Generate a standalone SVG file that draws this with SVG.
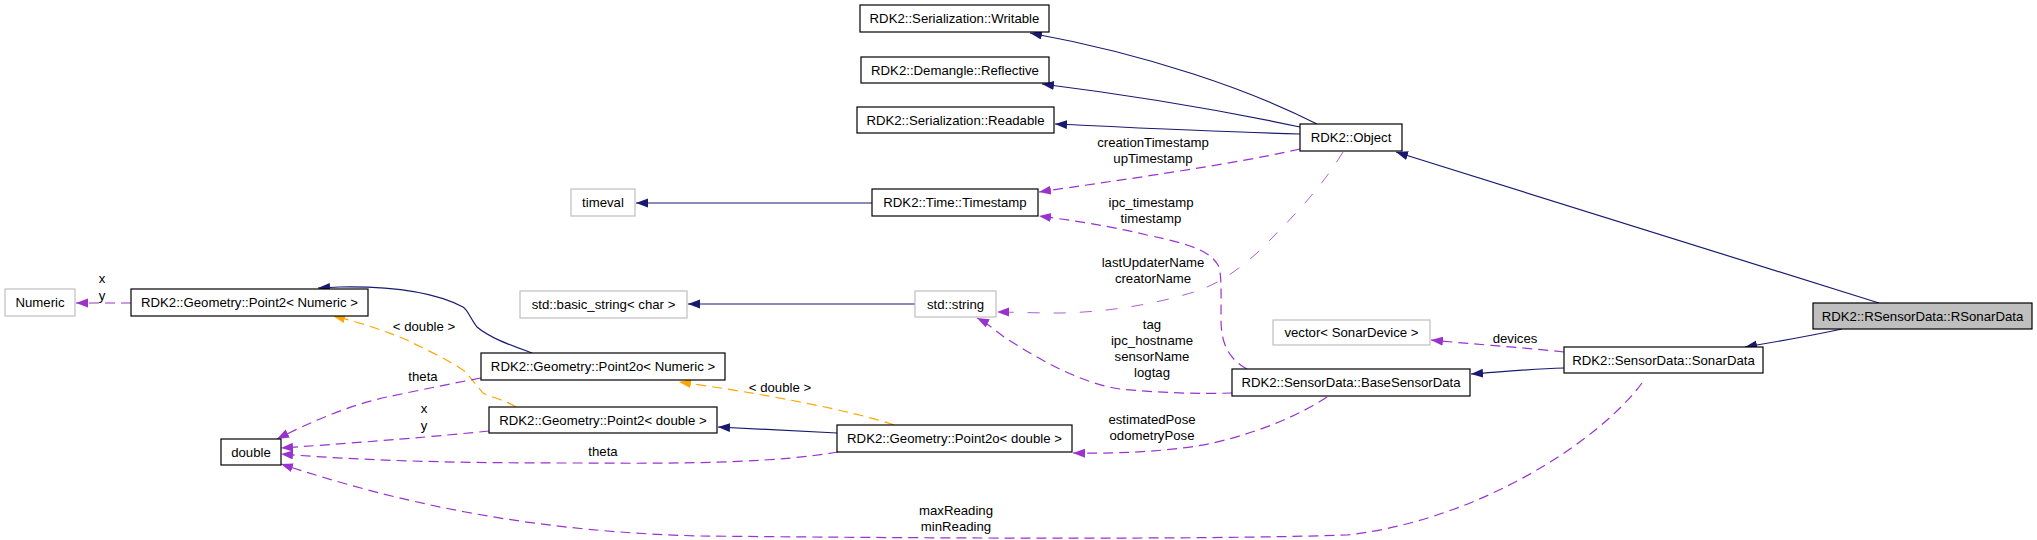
<svg xmlns="http://www.w3.org/2000/svg" width="2037" height="540" viewBox="0 0 2037 540">
<style>
  .n rect { fill: #ffffff; stroke: #000000; stroke-width: 1.2; }
  .n.ext rect { stroke: #bfbfbf; }
  .n.cur rect { fill: #bfbfbf; }
  text { font-family: "Liberation Sans", Arial, sans-serif; font-size: 13.2px; fill: #000000; text-anchor: middle; }
  .inh { fill: none; stroke: #191970; stroke-width: 1.2; }
  .use { fill: none; stroke: #9a32cd; stroke-width: 1.2; stroke-dasharray: 10,6; }
  .use.thin { stroke-width: 0.8; stroke-dasharray: 12,14; }
  .tpl { fill: none; stroke: #ffa500; stroke-width: 1.2; stroke-dasharray: 10,6; }
</style>
<defs>
  <marker id="aInh" markerUnits="userSpaceOnUse" markerWidth="13" markerHeight="10" refX="12" refY="4.5" orient="auto">
    <path d="M0,0 L12,4.5 L0,9 Z" fill="#191970"/>
  </marker>
  <marker id="aUse" markerUnits="userSpaceOnUse" markerWidth="13" markerHeight="10" refX="12" refY="4.5" orient="auto">
    <path d="M0,0 L12,4.5 L0,9 Z" fill="#9a32cd"/>
  </marker>
  <marker id="aTpl" markerUnits="userSpaceOnUse" markerWidth="13" markerHeight="10" refX="12" refY="4.5" orient="auto">
    <path d="M0,0 L12,4.5 L0,9 Z" fill="#ffa500"/>
  </marker>
</defs>
<rect x="0" y="0" width="2037" height="540" fill="#ffffff"/>

<g id="connectors">
  <!-- inheritance -->
  <path class="inh" marker-end="url(#aInh)" d="M1317,124 C1250,90 1150,55 1030,33"/>
  <path class="inh" marker-end="url(#aInh)" d="M1300,127 C1220,110 1130,95 1042,84"/>
  <path class="inh" marker-end="url(#aInh)" d="M1300,134 C1220,132 1140,128 1055,124"/>
  <path class="inh" marker-end="url(#aInh)" d="M1879,303 L1396,152"/>
  <path class="inh" marker-end="url(#aInh)" d="M1842,329 C1810,336 1775,342 1745,347"/>
  <path class="inh" marker-end="url(#aInh)" d="M1564,368 C1530,369 1500,372 1471,374"/>
  <path class="inh" marker-end="url(#aInh)" d="M872,203 L636,203"/>
  <path class="inh" marker-end="url(#aInh)" d="M915,304 L688,304"/>
  <path class="inh" marker-end="url(#aInh)" d="M837,433 C800,431 760,429 718,427"/>
  <path class="inh" marker-end="url(#aInh)" d="M532,353 C510,345 490,338 477,327 C470,318 468,310 463,307 C440,295 400,286 340,287 L318,288"/>
  <!-- template -->
  <path class="tpl" marker-end="url(#aTpl)" d="M894,425 C850,410 760,393 679,382"/>
  <path class="tpl" marker-end="url(#aTpl)" d="M516,407 C505,400 490,397 483,393 C475,383 470,378 467,373 C450,360 420,347 407,340 C390,333 360,322 333,316"/>
  <!-- usage -->
  <path class="use" marker-end="url(#aUse)" d="M131,303 L76,303"/>
  <path class="use" marker-end="url(#aUse)" d="M481,378 C460,382 420,390 387,397 C350,405 310,422 277,439"/>
  <path class="use" marker-end="url(#aUse)" d="M489,431 C440,436 370,442 281,448"/>
  <path class="use" marker-end="url(#aUse)" d="M838,452 C780,462 700,464 580,463 C480,463 380,462 281,454"/>
  <path class="use" marker-end="url(#aUse)" d="M1642,383 C1600,440 1480,520 1347,535 C1200,540 900,538 700,536 C550,532 420,510 281,464"/>
  <path class="use" marker-end="url(#aUse)" d="M1564,352 C1530,348 1470,344 1431,340"/>
  <path class="use" marker-end="url(#aUse)" d="M1300,149 C1230,165 1120,180 1039,192"/>
  <path class="use" marker-end="url(#aUse)" d="M1247,369 C1230,360 1221,345 1221,320 C1221,295 1222,273 1218,265 C1210,252 1195,245 1147,235 C1110,226 1070,220 1039,216"/>
  <path class="use thin" marker-end="url(#aUse)" d="M1343,152 C1320,190 1290,220 1257,253 C1240,268 1225,280 1200,290 C1170,300 1120,312 1060,313 C1030,313 1010,312 997,312"/>
  <path class="use" marker-end="url(#aUse)" d="M1232,393 C1200,394 1160,393 1120,389 C1080,383 1040,360 1004,337 C995,330 985,322 977,318"/>
  <path class="use" marker-end="url(#aUse)" d="M1327,397 C1300,415 1260,432 1213,443 C1180,450 1130,454 1073,453"/>
</g>

<g id="edge-labels">
  <text x="102" y="283">x</text>
  <text x="102" y="300">y</text>
  <text x="424" y="331">&lt; double &gt;</text>
  <text x="780" y="392">&lt; double &gt;</text>
  <text x="423" y="381">theta</text>
  <text x="424" y="413">x</text>
  <text x="424" y="430">y</text>
  <text x="603" y="456">theta</text>
  <text x="956" y="515">maxReading</text>
  <text x="956" y="531">minReading</text>
  <text x="1515" y="343">devices</text>
  <text x="1153" y="147">creationTimestamp</text>
  <text x="1153" y="163">upTimestamp</text>
  <text x="1151" y="207">ipc_timestamp</text>
  <text x="1151" y="223">timestamp</text>
  <text x="1153" y="267">lastUpdaterName</text>
  <text x="1153" y="283">creatorName</text>
  <text x="1152" y="329">tag</text>
  <text x="1152" y="345">ipc_hostname</text>
  <text x="1152" y="361">sensorName</text>
  <text x="1152" y="377">logtag</text>
  <text x="1152" y="424">estimatedPose</text>
  <text x="1152" y="440">odometryPose</text>
</g>

<g id="node-writable" class="n"><rect x="860" y="5" width="189" height="27"/><text x="954.5" y="23">RDK2::Serialization::Writable</text></g>
<g id="node-reflective" class="n"><rect x="861" y="57" width="188" height="26"/><text x="955" y="75">RDK2::Demangle::Reflective</text></g>
<g id="node-readable" class="n"><rect x="857" y="107" width="197" height="26"/><text x="955.5" y="125">RDK2::Serialization::Readable</text></g>
<g id="node-object" class="n"><rect x="1300" y="124" width="102" height="27"/><text x="1351" y="142">RDK2::Object</text></g>
<g id="node-timestamp" class="n"><rect x="872" y="189" width="166" height="27"/><text x="955" y="207">RDK2::Time::Timestamp</text></g>
<g id="node-timeval" class="n ext"><rect x="571" y="189" width="64" height="27"/><text x="603" y="207">timeval</text></g>
<g id="node-numeric" class="n ext"><rect x="5" y="289" width="70" height="27"/><text x="40" y="307">Numeric</text></g>
<g id="node-point2-numeric" class="n"><rect x="131" y="289" width="237" height="27"/><text x="249.5" y="307">RDK2::Geometry::Point2&lt; Numeric &gt;</text></g>
<g id="node-basic-string" class="n ext"><rect x="520" y="291" width="167" height="27"/><text x="603.5" y="309">std::basic_string&lt; char &gt;</text></g>
<g id="node-string" class="n ext"><rect x="915" y="291" width="81" height="26"/><text x="955.5" y="309">std::string</text></g>
<g id="node-vector" class="n ext"><rect x="1273" y="320" width="157" height="25"/><text x="1351.5" y="337">vector&lt; SonarDevice &gt;</text></g>
<g id="node-point2o-numeric" class="n"><rect x="481" y="353" width="244" height="27"/><text x="603" y="371">RDK2::Geometry::Point2o&lt; Numeric &gt;</text></g>
<g id="node-basesensordata" class="n"><rect x="1232" y="369" width="238" height="27"/><text x="1351" y="387">RDK2::SensorData::BaseSensorData</text></g>
<g id="node-sonardata" class="n"><rect x="1564" y="347" width="199" height="26"/><text x="1663.5" y="365">RDK2::SensorData::SonarData</text></g>
<g id="node-rsonardata" class="n cur"><rect x="1813" y="303" width="219" height="26"/><text x="1922.5" y="321">RDK2::RSensorData::RSonarData</text></g>
<g id="node-point2-double" class="n"><rect x="489" y="407" width="228" height="26"/><text x="603" y="425">RDK2::Geometry::Point2&lt; double &gt;</text></g>
<g id="node-point2o-double" class="n"><rect x="837" y="425" width="235" height="27"/><text x="954.5" y="443">RDK2::Geometry::Point2o&lt; double &gt;</text></g>
<g id="node-double" class="n"><rect x="221" y="439" width="60" height="26"/><text x="251" y="457">double</text></g>
</svg>
